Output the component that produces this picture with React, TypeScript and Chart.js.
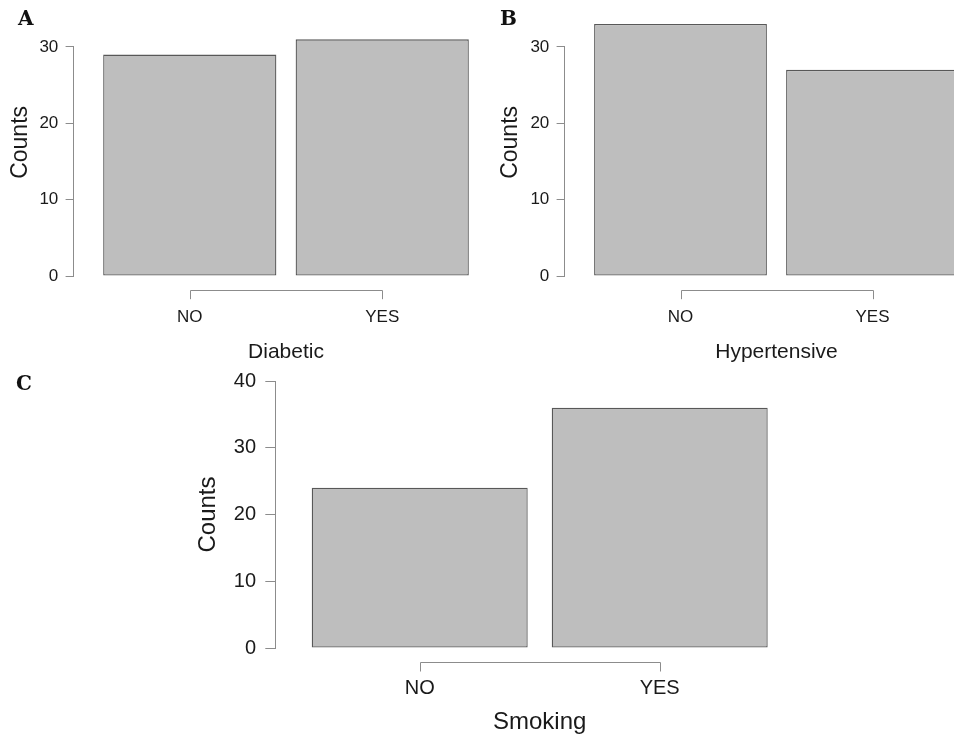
import React, { useEffect, useRef } from 'react';
import { Chart, registerables } from 'chart.js';

Chart.register(...registerables);

// ---- data ----
const categories = ['NO', 'YES'];
const diabeticCounts = [29, 31];
const hypertensiveCounts = [33, 27];
const smokingCounts = [24, 36];
const yTicksTop = [0, 10, 20, 30];
const yTicksBottom = [0, 10, 20, 30, 40];

const FONT = '"Liberation Sans", Arial, Helvetica, sans-serif';
const TEXT = '#1a1a1a';
const AXIS = '#8c8c8c';

// R-style axes: y line spans first..last tick, x "bracket" below the bars
const rAxes = {
  id: 'rAxes',
  afterDatasetsDraw(chart: any, _args: any, opts: any) {
    const { ctx, chartArea, scales } = chart;
    const xs = scales.x;
    const ys = scales.y;
    ctx.save();
    ctx.strokeStyle = opts.color;
    ctx.lineWidth = 1;
    const yt = ys.ticks;
    const lx = Math.round(chartArea.left) - 0.5;
    ctx.beginPath();
    ctx.moveTo(lx, ys.getPixelForValue(yt[0].value));
    ctx.lineTo(lx, ys.getPixelForValue(yt[yt.length - 1].value));
    ctx.stroke();
    const xt = xs.ticks;
    const by = Math.round(chartArea.bottom + opts.gap) + 0.5;
    const xa = Math.round(xs.getPixelForValue(xt[0].value)) + 0.5;
    const xb = Math.round(xs.getPixelForValue(xt[xt.length - 1].value)) + 0.5;
    ctx.beginPath();
    ctx.moveTo(xa, by + opts.tick);
    ctx.lineTo(xa, by);
    ctx.lineTo(xb, by);
    ctx.lineTo(xb, by + opts.tick);
    ctx.stroke();
    ctx.restore();
  },
};

type Panel = {
  values: number[];
  xTitle: string;
  yTicks: number[];
  yMax: number;
  padLeft: number;
  padTop: number;
  padRight: number;
  yWidth: number;
  xHeight: number;
  yTickLen: number;
  yTickPad: number;
  tickFont: number;
  xTickPad: number;
  yTitleFont: number;
  yTitlePad: number;
  xTitleFont: number;
  xTitlePad: number;
  gap: number;
  bracketTick: number;
};

function makeConfig(p: Panel): any {
  return {
    type: 'bar',
    data: {
      datasets: [
        {
          data: p.values.map((v, i) => ({ x: i + 1, y: v })),
          backgroundColor: '#bebebe',
          borderColor: '#585858',
          borderWidth: 1.3,
          borderSkipped: false,
          barPercentage: 0.9,
          categoryPercentage: 1,
        },
      ],
    },
    options: {
      responsive: false,
      animation: false,
      events: [],
      layout: {
        autoPadding: false,
        padding: { left: p.padLeft, top: p.padTop, right: p.padRight, bottom: 0 },
      },
      plugins: {
        legend: { display: false },
        tooltip: { enabled: false },
        rAxes: { color: AXIS, gap: p.gap, tick: p.bracketTick },
      },
      scales: {
        x: {
          type: 'linear',
          offset: false,
          min: 0.4,
          max: 2.6,
          afterBuildTicks: (s: any) => {
            s.ticks = categories.map((_, i) => ({ value: i + 1 }));
          },
          afterFit: (s: any) => {
            s.height = p.xHeight;
            s.paddingLeft = 0;
            s.paddingRight = 0;
          },
          grid: { display: false, drawTicks: false, offset: false },
          border: { display: false },
          ticks: {
            autoSkip: false,
            maxRotation: 0,
            minRotation: 0,
            padding: p.xTickPad,
            color: TEXT,
            font: { family: FONT, size: p.tickFont },
            callback: (v: number) => categories[Math.round(v) - 1] ?? '',
          },
          title: {
            display: true,
            text: p.xTitle,
            color: TEXT,
            font: { family: FONT, size: p.xTitleFont },
            padding: { top: 0, bottom: p.xTitlePad },
          },
        },
        y: {
          min: 0,
          max: p.yMax,
          afterBuildTicks: (s: any) => {
            s.ticks = p.yTicks.map((v) => ({ value: v }));
          },
          afterFit: (s: any) => {
            s.width = p.yWidth;
            s.paddingTop = 0;
            s.paddingBottom = 0;
          },
          grid: {
            display: true,
            drawOnChartArea: false,
            drawTicks: true,
            tickLength: p.yTickLen,
            color: AXIS,
            lineWidth: 1,
          },
          border: { display: false },
          ticks: {
            padding: p.yTickPad,
            color: TEXT,
            font: { family: FONT, size: p.tickFont },
            callback: (v: number) => String(v),
          },
          title: {
            display: true,
            text: 'Counts',
            color: TEXT,
            font: { family: FONT, size: p.yTitleFont },
            padding: { top: p.yTitlePad, bottom: 0 },
          },
        },
      },
    },
    plugins: [rAxes],
  };
}

function ChartCanvas({ panel, left, top, width, height }: { panel: Panel; left: number; top: number; width: number; height: number }) {
  const ref = useRef<HTMLCanvasElement | null>(null);
  useEffect(() => {
    if (!ref.current) return;
    const chart = new Chart(ref.current, makeConfig(panel));
    return () => chart.destroy();
  }, [panel]);
  return (
    <canvas
      ref={ref}
      width={width}
      height={height}
      style={{ position: 'absolute', left, top, width, height }}
    />
  );
}

const panelA: Panel = {
  values: diabeticCounts, xTitle: 'Diabetic', yTicks: yTicksTop, yMax: 35,
  padLeft: 0, padTop: 8.8, padRight: 2.3, yWidth: 74.3, xHeight: 89,
  yTickLen: 8.7, yTickPad: 7.3, tickFont: 17, xTickPad: 31.5,
  yTitleFont: 23, yTitlePad: 7, xTitleFont: 21, xTitlePad: 0.6, gap: 14, bracketTick: 8.7,
};
const panelB: Panel = {
  values: hypertensiveCounts, xTitle: 'Hypertensive', yTicks: yTicksTop, yMax: 35,
  padLeft: 0, padTop: 8.8, padRight: 2.3, yWidth: 85.3, xHeight: 89,
  yTickLen: 8.7, yTickPad: 7.3, tickFont: 17, xTickPad: 31.5,
  yTitleFont: 23, yTitlePad: 17, xTitleFont: 21, xTitlePad: 0.6, gap: 14, bracketTick: 8.7,
};
const panelC: Panel = {
  values: smokingCounts, xTitle: 'Smoking', yTicks: yTicksBottom, yMax: 40,
  padLeft: 180, padTop: 16, padRight: 150.3, yWidth: 95.7, xHeight: 92,
  yTickLen: 10.4, yTickPad: 9.3, tickFont: 20, xTickPad: 28.5,
  yTitleFont: 24, yTitlePad: 14.3, xTitleFont: 24, xTitlePad: 3.6, gap: 13.7, bracketTick: 9,
};

const letterStyle: React.CSSProperties = {
  position: 'absolute',
  fontFamily: '"DejaVu Serif", "Liberation Serif", serif',
  fontWeight: 900,
  fontSize: 20,
  lineHeight: '20px',
  color: '#111',
};

export default function App() {
  return (
    <div
      style={{
        position: 'absolute',
        left: 0,
        top: 0,
        width: 954,
        height: 740,
        overflow: 'hidden',
        background: '#ffffff',
      }}
    >
      <ChartCanvas panel={panelA} left={0} top={0} width={500} height={365} />
      <ChartCanvas panel={panelB} left={480} top={0} width={510} height={365} />
      <ChartCanvas panel={panelC} left={0} top={365} width={954} height={375} />
      <div style={{ ...letterStyle, left: 18, top: 7.7 }}>A</div>
      <div style={{ ...letterStyle, left: 500, top: 7.7 }}>B</div>
      <div style={{ ...letterStyle, left: 16, top: 372.7 }}>C</div>
    </div>
  );
}
